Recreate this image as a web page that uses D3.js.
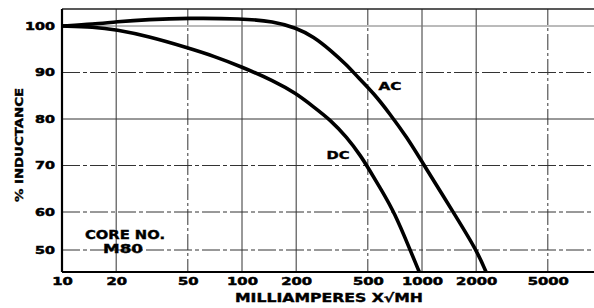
<html>
<head>
    <!--
        D3 Data Driven Documents
    -->
    <script src="https://cdn.jsdelivr.net/npm/d3@7/dist/d3.min.js"></script>
    <style>
        body { margin: 0; background: #fff; }
        text { font-family: "DejaVu Sans", sans-serif; font-weight: bold; fill: #000; }
    </style>
</head>
<body>
    <script>

        // window is 594 x 308
        var width = 594, height = 308;

        // plot box (careful: 'top' is taken by window.top)
        var boxLeft = 62, boxRight = 594, boxTop = 9, boxBottom = 272;

        /*
         * data
         * milliamperes x sqrt(mh) against % inductance
         */
        var acCurrent = [10, 15, 20, 30, 50, 100, 150, 200, 250, 310, 380, 440, 540, 660, 820, 1030, 1490, 2010, 2270];
        var acValue   = [100, 100.4, 100.9, 101.4, 101.7, 101.6, 101, 99.6, 97.7, 94.8, 91.7, 89.0, 85.5, 81.2, 76.2, 70, 60, 50, 44.2];

        var dcCurrent = [10, 15, 20, 30, 50, 70, 100, 150, 200, 250, 310, 380, 460, 500, 600, 700, 860, 966];
        var dcValue   = [100, 99.8, 99.2, 97.8, 95.3, 93.5, 91.2, 88.2, 85.5, 82.6, 79.8, 76.2, 71.9, 69.6, 64.5, 60, 50, 44.2];

        // tick labels
        var xTicks = [10, 20, 50, 100, 200, 500, 1000, 2000, 5000];
        var yTicks = [50, 60, 70, 80, 90, 100];

        var svg = d3.select("body")
            .append("svg")
            .attr("width", width)
            .attr("height", height);

        /*
         * x is log, 180px a decade
         * extrapolated past 1000 up to the right edge
         */
        var x = d3.scaleLog()
            .domain([10, 1000])
            .range([boxLeft, 422]);

        /*
         * y - the printed scale squeezes the 50-60 band
         * so use a piecewise linear scale
         */
        var y = d3.scaleLinear()
            .domain([50, 60, 100])
            .range([250, 212, 26]);

        // clip to the plot box
        svg.append("clipPath")
            .attr("id", "plot")
            .append("rect")
            .attr("x", boxLeft)
            .attr("y", boxTop)
            .attr("width", boxRight - boxLeft)
            .attr("height", boxBottom - boxTop);

        // the broken scan-looking gridlines
        var dashedX = [50, 500, 5000];
        var dashedY = [90, 70, 60, 50];

        svg.append("g")
            .selectAll("line")
            .data(xTicks.slice(1))
            .join("line")
            .attr("x1", d => x(d))
            .attr("x2", d => x(d))
            .attr("y1", boxTop)
            .attr("y2", boxBottom)
            .attr("stroke", "#333")
            .attr("stroke-width", 1)
            .attr("stroke-dasharray", d => dashedX.includes(d) ? "16,3,3,3" : null);

        svg.append("g")
            .selectAll("line")
            .data(yTicks)
            .join("line")
            .attr("x1", boxLeft)
            .attr("x2", boxRight)
            .attr("y1", d => y(d))
            .attr("y2", d => y(d))
            .attr("stroke", d => d == 100 ? "#777" : "#333")
            .attr("stroke-width", 1)
            .attr("stroke-dasharray", d => dashedY.includes(d) ? "18,3,4,3" : null);

        // top border
        svg.append("line")
            .attr("x1", boxLeft).attr("x2", boxRight)
            .attr("y1", boxTop).attr("y2", boxTop)
            .attr("stroke", "#222")
            .attr("stroke-width", 1.5);

        /*
         * curves - basis smooths out the reading errors
         */
        var line = d3.line()
            .x(d => x(d[0]))
            .y(d => y(d[1]))
            .curve(d3.curveBasis);

        var curves = [
            d3.zip(acCurrent, acValue),
            d3.zip(dcCurrent, dcValue)
        ];

        svg.append("g")
            .attr("clip-path", "url(#plot)")
            .selectAll("path")
            .data(curves)
            .join("path")
            .attr("d", line)
            .attr("fill", "none")
            .attr("stroke", "#000")
            .attr("stroke-width", 3.6)
            .attr("stroke-linejoin", "round");

        /*
         * axes - no tick marks, wide heavy labels
         */
        var xAxis = d3.axisBottom(x)
            .tickValues(xTicks)
            .tickFormat(d3.format("d"))
            .tickSize(0)
            .tickPadding(6);

        var xAxisGroup = svg.append("g")
            .attr("transform", "translate(0," + boxBottom + ")")
            .call(xAxis);

        // axis line runs the whole box, not just the 10-1000 range
        xAxisGroup.select(".domain")
            .attr("d", "M" + boxLeft + ",0H" + boxRight)
            .attr("stroke", "#000")
            .attr("stroke-width", 2.2);

        xAxisGroup.selectAll("text")
            .attr("font-size", 10.5)
            .attr("font-family", "DejaVu Sans")
            .attr("font-weight", "bold")
            .attr("stroke", "#000")
            .attr("stroke-width", 0.5)
            .attr("textLength", function (d) { return String(d).length * 10.3; })
            .attr("lengthAdjust", "spacingAndGlyphs");

        var yAxis = d3.axisLeft(y)
            .tickValues(yTicks)
            .tickSize(0)
            .tickPadding(7);

        var yAxisGroup = svg.append("g")
            .attr("transform", "translate(" + boxLeft + ",0)")
            .call(yAxis);

        yAxisGroup.select(".domain")
            .attr("d", "M0," + boxTop + "V" + boxBottom)
            .attr("stroke", "#000")
            .attr("stroke-width", 2.2);

        yAxisGroup.selectAll("text")
            .attr("font-size", 10.5)
            .attr("font-family", "DejaVu Sans")
            .attr("font-weight", "bold")
            .attr("stroke", "#000")
            .attr("stroke-width", 0.5)
            .attr("textLength", function (d) { return String(d).length * 10; })
            .attr("lengthAdjust", "spacingAndGlyphs");

        /*
         * titles and labels
         */
        svg.append("text")
            .attr("x", 329)
            .attr("y", 302)
            .attr("text-anchor", "middle")
            .attr("font-size", 12)
            .attr("stroke", "#000")
            .attr("stroke-width", 0.4)
            .attr("textLength", 188)
            .attr("lengthAdjust", "spacingAndGlyphs")
            .text("MILLIAMPERES X√MH");

        svg.append("text")
            .attr("transform", "translate(23,145) rotate(-90)")
            .attr("text-anchor", "middle")
            .attr("font-size", 11)
            .attr("stroke", "#000")
            .attr("stroke-width", 0.4)
            .attr("textLength", 114)
            .attr("lengthAdjust", "spacingAndGlyphs")
            .text("% INDUCTANCE");

        svg.append("text")
            .attr("x", 125).attr("y", 239)
            .attr("text-anchor", "middle")
            .attr("font-size", 12.5)
            .attr("stroke", "#000")
            .attr("stroke-width", 0.4)
            .attr("textLength", 80)
            .attr("lengthAdjust", "spacingAndGlyphs")
            .text("CORE NO.");

        svg.append("text")
            .attr("x", 123).attr("y", 253)
            .attr("text-anchor", "middle")
            .attr("font-size", 12.5)
            .attr("stroke", "#000")
            .attr("stroke-width", 0.4)
            .attr("textLength", 40)
            .attr("lengthAdjust", "spacingAndGlyphs")
            .text("M80");

        svg.append("text")
            .attr("x", 390).attr("y", 90)
            .attr("text-anchor", "middle")
            .attr("font-size", 11)
            .attr("stroke", "#000")
            .attr("stroke-width", 0.4)
            .attr("textLength", 23)
            .attr("lengthAdjust", "spacingAndGlyphs")
            .text("AC");

        svg.append("text")
            .attr("x", 338).attr("y", 159)
            .attr("text-anchor", "middle")
            .attr("font-size", 11)
            .attr("stroke", "#000")
            .attr("stroke-width", 0.4)
            .attr("textLength", 23)
            .attr("lengthAdjust", "spacingAndGlyphs")
            .text("DC");

    </script>
</body>
</html>
